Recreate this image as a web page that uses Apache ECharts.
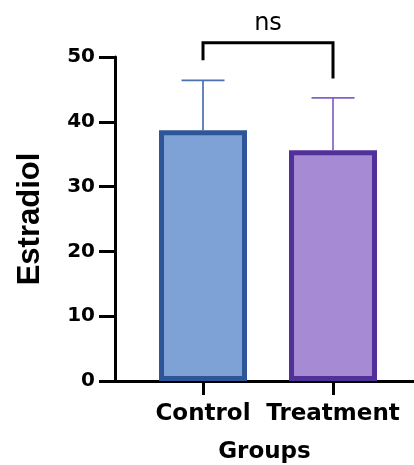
<!DOCTYPE html>
<html>
<head>
<meta charset="utf-8">
<script src="https://cdn.jsdelivr.net/npm/echarts@6/dist/echarts.min.js"></script>
<style>
html,body{margin:0;padding:0;background:#fff;}
#chart{width:414px;height:465px;}
</style>
</head>
<body>
<div id="chart"></div>
<script>
// ---- data ----
const categories = ['Control', 'Treatment'];
const means = [38.7, 35.6];
const errorUpper = [46.4, 43.7];
const yTicks = [0, 10, 20, 30, 40, 50];
// significance bracket: left leg bottom, bar top, right leg bottom
const bracketLevels = [49.5, 52.2, 46.7];
const bracketLabel = 'ns';
const bracketLabelLevel = 55.2;

const fillColors = ['#7ea2d5', '#a68ad3'];
const borderColors = ['#2e5597', '#52309a'];
const errColors = ['#4a70b0', '#8263c4'];

const chart = echarts.init(document.getElementById('chart'), null, {renderer: 'canvas'});
const axisFont = 'DejaVu Sans';

const option = {
  animation: false,
  backgroundColor: '#fff',
  grid: {left: 115, right: 0, top: 57, bottom: 84, containLabel: false, outerBoundsMode: 'none'},
  xAxis: {
    type: 'value', min: -0.677, max: 1.623,
    splitLine: {show: false},
    axisLine: {show: true, onZero: false, lineStyle: {color: '#000', width: 3}},
    axisTick: {show: true, customValues: [0, 1], length: 14, lineStyle: {color: '#000', width: 3}},
    axisLabel: {customValues: [0, 1], formatter: v => categories[Math.round(v)], fontSize: 23, fontWeight: 'bold', fontFamily: axisFont, color: '#000', margin: 22},
    name: 'Groups', nameLocation: 'middle', nameGap: 60,
    nameTextStyle: {fontSize: 23, fontWeight: 'bold', fontFamily: axisFont, color: '#000'}
  },
  yAxis: {
    type: 'value', min: yTicks[0], max: yTicks[yTicks.length - 1], interval: 10,
    splitLine: {show: false},
    axisLine: {show: true, onZero: false, lineStyle: {color: '#000', width: 3}},
    axisTick: {show: true, length: 16, lineStyle: {color: '#000', width: 3}},
    axisLabel: {fontSize: 20, fontWeight: 'bold', fontFamily: axisFont, color: '#000', margin: 20},
    name: 'Estradiol', nameLocation: 'middle', nameGap: 69, nameRotate: 90,
    nameTextStyle: {fontSize: 31, fontWeight: 'bold', fontFamily: 'Liberation Sans', color: '#000'}
  },
  series: [
    {type: 'bar', barWidth: 88, z: 2,
      data: means.map((m, i) => ({value: [i, m], itemStyle: {color: fillColors[i], borderColor: borderColors[i], borderWidth: 5}}))},
    {type: 'custom', z: 3, data: means.map((m, i) => [i, m, errorUpper[i]]),
      renderItem: function (params, api) {
        const i = api.value(0);
        const base = api.coord([i, api.value(1)]);
        const top = api.coord([i, api.value(2)]);
        const half = 21.5;
        const c = errColors[params.dataIndex];
        return {type: 'group', children: [
          {type: 'line', shape: {x1: base[0], y1: base[1], x2: top[0], y2: top[1]}, style: {stroke: c, lineWidth: 1.7}},
          {type: 'line', shape: {x1: top[0] - half, y1: top[1], x2: top[0] + half, y2: top[1]}, style: {stroke: c, lineWidth: 1.7}}
        ]};
      }},
    {type: 'custom', z: 4, clip: false, data: [[0, 1]],
      renderItem: function (params, api) {
        const p1 = api.coord([0, bracketLevels[0]]);
        const p2 = api.coord([0, bracketLevels[1]]);
        const p3 = api.coord([1, bracketLevels[1]]);
        const p4 = api.coord([1, bracketLevels[2]]);
        const t = api.coord([0.5, bracketLabelLevel]);
        return {type: 'group', children: [
          {type: 'polyline', shape: {points: [p1, p2, p3, p4]}, style: {stroke: '#000', lineWidth: 3, fill: null}},
          {type: 'text', x: t[0], y: t[1], style: {text: bracketLabel, fontSize: 24, fontFamily: 'DejaVu Sans', fill: '#000', align: 'center', verticalAlign: 'middle'}}
        ]};
      }}
  ]
};
chart.setOption(option);
</script>
</body>
</html>
